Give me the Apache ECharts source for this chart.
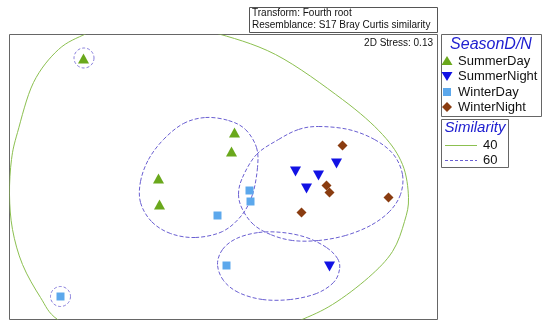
<!DOCTYPE html>
<html><head><meta charset="utf-8">
<script src="https://cdn.jsdelivr.net/npm/echarts@6/dist/echarts.min.js"></script>
<style>html,body{margin:0;padding:0;background:#fff}#c{width:550px;height:330px}</style>
</head><body><div id="c"></div>
<script>
// NMDS coordinates (arbitrary units)
const summerDay   = [[-1.405,1.185],[0.105,0.445],[0.075,0.255],[-0.655,-0.015],[-0.645,-0.275]];
const summerNight = [[0.715,0.055],[0.945,0.015],[1.125,0.135],[0.825,-0.115],[1.055,-0.895]];
const winterDay   = [[0.255,-0.135],[0.265,-0.245],[-0.065,-0.385],[0.025,-0.885],[-1.635,-1.195]];
const winterNight = [[1.185,0.315],[1.025,-0.085],[1.055,-0.155],[1.645,-0.205],[0.775,-0.355]];

// Similarity contours
const contour40 = [[-0.735,1.595],[-0.135,1.455],[0.515,1.225],[1.185,0.775],[1.585,0.425],[1.785,0.125],[1.845,-0.205],[1.805,-0.445],[1.685,-0.745],[1.445,-1.005],[1.085,-1.275],[0.735,-1.445],[0.165,-1.675],[-0.535,-1.745],[-1.235,-1.645],[-1.665,-1.425],[-1.835,-1.205],[-2.015,-0.875],[-2.115,-0.525],[-2.145,-0.175],[-2.125,0.175],[-2.065,0.445],[-1.905,0.945],[-1.655,1.275],[-1.375,1.435],[-1.085,1.555]];
const contour60a = [[-0.185,0.595],[0.045,0.565],[0.215,0.475],[0.325,0.295],[0.335,0.095],[0.285,-0.175],[0.175,-0.385],[-0.015,-0.545],[-0.285,-0.605],[-0.535,-0.565],[-0.725,-0.445],[-0.835,-0.255],[-0.835,-0.045],[-0.755,0.175],[-0.605,0.375],[-0.405,0.535]];
const contour60b = [[0.945,0.505],[1.245,0.475],[1.505,0.375],[1.695,0.225],[1.785,0.025],[1.765,-0.175],[1.655,-0.345],[1.465,-0.485],[1.215,-0.585],[0.945,-0.635],[0.685,-0.635],[0.465,-0.575],[0.295,-0.475],[0.185,-0.325],[0.145,-0.175],[0.185,-0.005],[0.325,0.225],[0.545,0.375],[0.745,0.475]];
const contour60c = [[-0.065,-0.875],[-0.015,-0.725],[0.125,-0.615],[0.345,-0.555],[0.585,-0.555],[0.825,-0.605],[1.025,-0.705],[1.135,-0.815],[1.155,-0.925],[1.095,-1.055],[0.925,-1.165],[0.665,-1.225],[0.385,-1.225],[0.145,-1.155],[-0.005,-1.035]];
const contour60single = [[-1.40,1.19],[-1.635,-1.195]];

const seasonLabels = ['SummerDay','SummerNight','WinterDay','WinterNight'];
const simLabels = ['40','60'];
const titleLines = ['Transform: Fourth root','Resemblance: S17 Bray Curtis similarity'];
const stressText = '2D Stress: 0.13';

const C_GREEN='#6aa81c', C_BLUE='#1212e4', C_SQ='#5ca8ec', C_BROWN='#8a3c10';
const C_C40='#8cc050', C_C60='#6a5fd2';
const FONT='"Liberation Sans", Arial, sans-serif';

const chart = echarts.init(document.getElementById('c'), null, {renderer:'canvas'});

// closed Catmull-Rom spline drawn as cubic bezier segments through the projected contour vertices
function contourSeries(pts, color, dash){
  return {type:'custom', coordinateSystem:'cartesian2d', data:[[0,0]], silent:true, z:1, animation:false,
    renderItem(params, api){
      const cs = params.coordSys;
      const P = pts.map(p=>api.coord(p));
      const n = P.length, kids = [];
      for(let i=0;i<n;i++){
        const p0=P[(i-1+n)%n], p1=P[i], p2=P[(i+1)%n], p3=P[(i+2)%n];
        kids.push({type:'bezierCurve', shape:{x1:p1[0],y1:p1[1],x2:p2[0],y2:p2[1],
          cpx1:p1[0]+(p2[0]-p0[0])/6, cpy1:p1[1]+(p2[1]-p0[1])/6,
          cpx2:p2[0]-(p3[0]-p1[0])/6, cpy2:p2[1]-(p3[1]-p1[1])/6},
          style:{fill:'none', stroke:color, lineWidth:1, lineDash:dash}});
      }
      return {type:'group', children:kids,
        clipPath:{type:'rect', shape:{x:cs.x, y:cs.y, width:cs.width, height:cs.height}}};
    }};
}

const g = [];
// top info box
g.push({type:'rect', shape:{x:249.5,y:7.5,width:188,height:25}, style:{fill:'#fff',stroke:'#555',lineWidth:1}});
titleLines.forEach((t,i)=>g.push({type:'text', x:252, y:13.5+i*11.5, style:{text:t, font:'10px '+FONT, fill:'#111', verticalAlign:'middle'}}));
// legend box 1
g.push({type:'rect', shape:{x:441.5,y:34.5,width:100,height:82}, style:{fill:'#fff',stroke:'#666',lineWidth:1}});
g.push({type:'text', x:491, y:45, style:{text:'SeasonD/N', font:'italic 16px '+FONT, fill:'#2020d0', align:'center', verticalAlign:'middle'}});
const ys=[61,76,92,107];
seasonLabels.forEach((t,i)=>g.push({type:'text', x:458, y:ys[i], style:{text:t, font:'13px '+FONT, fill:'#111', verticalAlign:'middle'}}));
g.push({type:'polygon', shape:{points:[[447,56],[452.5,65],[441.5,65]]}, style:{fill:C_GREEN}});
g.push({type:'polygon', shape:{points:[[441.5,72],[452.5,72],[447,81]]}, style:{fill:C_BLUE}});
g.push({type:'rect', shape:{x:443,y:88,width:8,height:8}, style:{fill:C_SQ}});
g.push({type:'polygon', shape:{points:[[447,102],[452,107],[447,112],[442,107]]}, style:{fill:C_BROWN}});
// legend box 2
g.push({type:'rect', shape:{x:441.5,y:119.5,width:67,height:48}, style:{fill:'#fff',stroke:'#666',lineWidth:1}});
g.push({type:'text', x:475, y:128, style:{text:'Similarity', font:'italic 15px '+FONT, fill:'#2020d0', align:'center', verticalAlign:'middle'}});
g.push({type:'line', shape:{x1:445,y1:145.5,x2:477,y2:145.5}, style:{stroke:C_C40,lineWidth:1}});
g.push({type:'line', shape:{x1:445,y1:160.5,x2:477,y2:160.5}, style:{stroke:C_C60,lineWidth:1,lineDash:[3,2]}});
simLabels.forEach((t,i)=>g.push({type:'text', x:483, y:145+i*15, style:{text:t, font:'13px '+FONT, fill:'#111', verticalAlign:'middle'}}));
// stress
g.push({type:'text', x:433, y:43, style:{text:stressText, font:'10px '+FONT, fill:'#111', align:'right', verticalAlign:'middle'}, z:10});

const sc = (data, symbol, size, color, rot)=>({type:'scatter', data, symbol, symbolSize:size, symbolRotate:rot||0, itemStyle:{color, opacity:1}, z:5, silent:true, animation:false});

chart.setOption({
  animation:false,
  grid:{left:9.5, top:34.5, width:428, height:285, show:true, borderColor:'#666', borderWidth:1, backgroundColor:'#fff'},
  xAxis:{type:'value', min:-2.145, max:2.135, show:false},
  yAxis:{type:'value', min:-1.425, max:1.425, show:false},
  graphic:g,
  series:[
    contourSeries(contour40, C_C40, null),
    contourSeries(contour60a, C_C60, [4,2]),
    contourSeries(contour60b, C_C60, [4,2]),
    contourSeries(contour60c, C_C60, [4,2]),
    {type:'scatter', data:contour60single, symbol:'circle', symbolSize:20, silent:true, z:2,
      itemStyle:{color:'rgba(0,0,0,0)', borderColor:C_C60, borderWidth:1, borderType:[3,2]}},
    sc(summerDay,'triangle',[11,10],C_GREEN),
    sc(summerNight,'triangle',[11,10],C_BLUE,180),
    sc(winterDay,'rect',[8,8],C_SQ),
    sc(winterNight,'diamond',[10,10],C_BROWN)
  ]
});
</script></body></html>
